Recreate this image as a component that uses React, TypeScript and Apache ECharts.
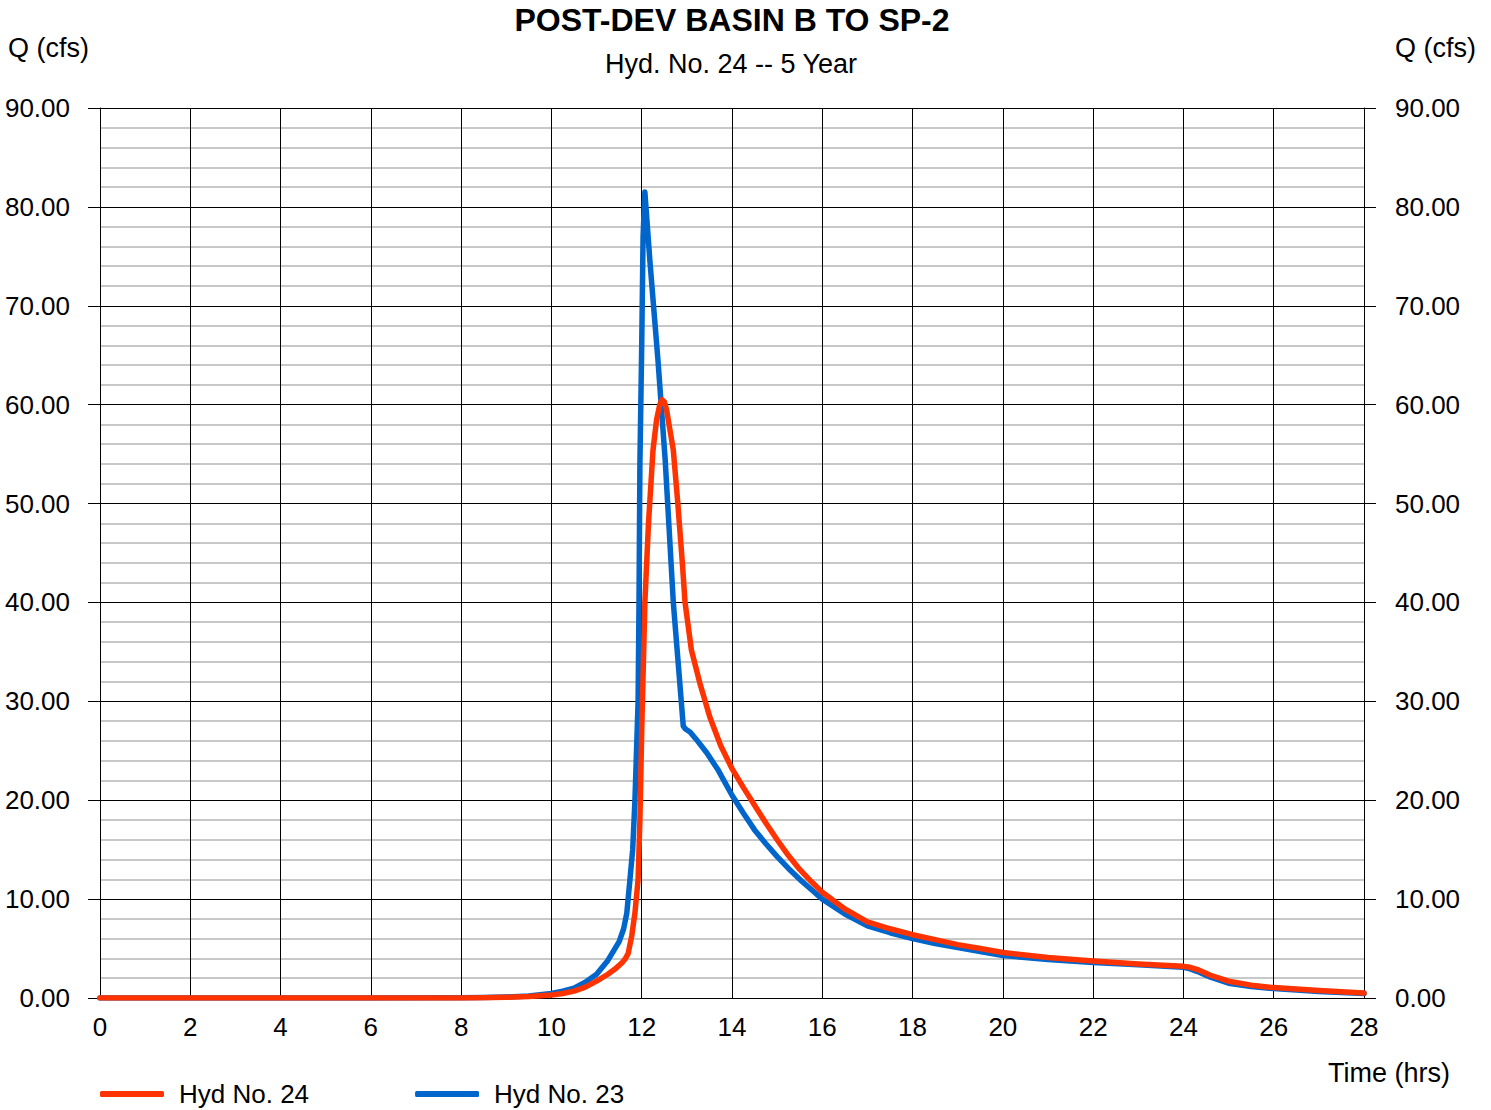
import React, { useEffect, useRef } from "react";
import * as echarts from "echarts";

const xTicks = [0, 2, 4, 6, 8, 10, 12, 14, 16, 18, 20, 22, 24, 26, 28];
const yTicks = [0, 10, 20, 30, 40, 50, 60, 70, 80, 90];

const hyd23Time = [0, 6, 8, 8.5, 9, 9.5, 10, 10.25, 10.5, 10.75, 11, 11.25, 11.5, 11.6, 11.67, 11.74, 11.8, 11.85, 11.92, 11.94, 11.96, 12.0, 12.03, 12.07, 12.18, 12.36, 12.52, 12.7, 12.85, 12.92, 12.97, 13.07, 13.2, 13.44, 13.7, 14.0, 14.25, 14.5, 14.75, 15, 15.25, 15.5, 15.75, 16, 16.5, 17, 17.5, 18, 18.5, 19, 19.5, 20, 21, 22, 23, 24, 24.15, 24.3, 24.6, 25, 25.5, 26, 26.5, 27, 28];
const hyd23Flow = [0, 0, 0.02, 0.05, 0.1, 0.2, 0.45, 0.7, 1.0, 1.6, 2.4, 3.8, 5.7, 7.0, 8.6, 12, 15, 20, 30, 40, 54, 66, 77, 81.5, 74.6, 64.5, 54.4, 40, 31.5, 27.5, 27.2, 26.9, 26.2, 24.8, 23.0, 20.5, 18.7, 17.0, 15.6, 14.3, 13.1, 12.0, 11.0, 10.0, 8.5, 7.3, 6.6, 6.0, 5.5, 5.1, 4.7, 4.3, 3.9, 3.6, 3.35, 3.1, 2.95, 2.7, 2.1, 1.5, 1.15, 0.95, 0.8, 0.65, 0.45];

const hyd24Time = [0, 6, 8, 8.5, 9, 9.5, 10, 10.25, 10.5, 10.75, 11, 11.25, 11.4, 11.5, 11.58, 11.64, 11.7, 11.78, 11.85, 11.92, 11.96, 12.0, 12.07, 12.15, 12.25, 12.33, 12.4, 12.45, 12.5, 12.55, 12.7, 12.8, 12.9, 12.96, 13.1, 13.29, 13.51, 13.75, 14.0, 14.25, 14.5, 14.75, 15, 15.25, 15.5, 15.75, 16, 16.5, 17, 17.5, 18, 18.5, 19, 19.5, 20, 21, 22, 23, 24, 24.15, 24.3, 24.6, 25, 25.5, 26, 26.5, 27, 28];
const hyd24Flow = [0, 0, 0.01, 0.03, 0.07, 0.15, 0.3, 0.45, 0.7, 1.1, 1.7, 2.4, 2.9, 3.3, 3.65, 4.0, 4.5, 6.3, 8.6, 12, 18, 27, 40, 48, 55.4, 58.5, 60.0, 60.5, 60.3, 59.5, 55.4, 50, 44, 40, 35.2, 31.8, 28.4, 25.5, 23.2, 21.3, 19.5, 17.7, 16.0, 14.4, 13.0, 11.8, 10.7, 9.0, 7.7, 7.0, 6.4, 5.9, 5.4, 5.0, 4.6, 4.1, 3.75, 3.45, 3.2, 3.1, 2.9, 2.3, 1.7, 1.3, 1.05, 0.9, 0.75, 0.5];

const seriesNames = ["Hyd No. 24", "Hyd No. 23"];
const seriesColors = ["#ff3300", "#0066cc"];
const titleText = "POST-DEV BASIN B TO SP-2";
const subtitleText = "Hyd. No. 24 -- 5 Year";

const FONT = "Liberation Sans, Arial, sans-serif";

export default function App() {
  const ref = useRef<HTMLDivElement>(null);
  useEffect(() => {
    if (!ref.current) return;
    const chart = echarts.init(ref.current, null, { renderer: "svg" });
    const pair = (t: number[], q: number[]) => t.map((v, i) => [v, q[i]]);
    const yAxisBase = {
      type: "value",
      min: yTicks[0],
      max: yTicks[yTicks.length - 1],
      interval: 10,
      axisLine: { show: true, lineStyle: { color: "#000", width: 1 } },
      axisTick: { show: true, inside: false, length: 12, lineStyle: { color: "#000", width: 1 } },
      axisLabel: {
        formatter: (v: number) => v.toFixed(2),
        color: "#000",
        fontFamily: FONT,
        fontSize: 26,
        margin: 30,
      },
    };
    chart.setOption({
      animation: false,
      backgroundColor: "#fff",
      textStyle: { fontFamily: FONT },
      grid: { left: 100, right: 127, top: 108, bottom: 112, containLabel: false },
      xAxis: {
        type: "value",
        min: xTicks[0],
        max: xTicks[xTicks.length - 1],
        interval: 2,
        axisLine: { show: true, onZero: false, lineStyle: { color: "#000", width: 1 } },
        axisTick: { show: false },
        axisLabel: { color: "#000", fontFamily: FONT, fontSize: 26, margin: 16 },
        splitLine: { show: true, lineStyle: { color: "#000", width: 1 } },
      },
      yAxis: [
        {
          ...yAxisBase,
          position: "left",
          splitLine: { show: true, lineStyle: { color: "#000", width: 1 } },
          minorTick: { show: false, splitNumber: 5 },
          minorSplitLine: { show: true, lineStyle: { color: "#c8c8c8", width: 2 } },
        },
        {
          ...yAxisBase,
          position: "right",
          axisLabel: { ...yAxisBase.axisLabel, margin: 31 },
          splitLine: { show: false },
        },
      ],
      legend: {
        data: seriesNames,
        left: 95,
        top: 1076,
        padding: 5,
        icon: "roundRect",
        itemWidth: 64,
        itemHeight: 6,
        itemGap: 106,
        textStyle: { color: "#000", fontFamily: FONT, fontSize: 26, lineHeight: 26, padding: [0, 0, 0, 10] },
      },
      graphic: [
        {
          type: "text",
          x: 732,
          y: 20,
          style: { text: titleText, fill: "#000", font: `bold 32px ${FONT}`, textAlign: "center", textVerticalAlign: "middle" },
        },
        {
          type: "text",
          x: 731,
          y: 64,
          style: { text: subtitleText, fill: "#000", font: `27px ${FONT}`, textAlign: "center", textVerticalAlign: "middle" },
        },
        {
          type: "text",
          x: 8,
          y: 48,
          style: { text: "Q (cfs)", fill: "#000", font: `27px ${FONT}`, textAlign: "left", textVerticalAlign: "middle" },
        },
        {
          type: "text",
          x: 1395,
          y: 48,
          style: { text: "Q (cfs)", fill: "#000", font: `27px ${FONT}`, textAlign: "left", textVerticalAlign: "middle" },
        },
        {
          type: "text",
          x: 1328,
          y: 1073,
          style: { text: "Time (hrs)", fill: "#000", font: `27px ${FONT}`, textAlign: "left", textVerticalAlign: "middle" },
        },
      ],
      series: [
        {
          name: seriesNames[1],
          type: "line",
          data: pair(hyd23Time, hyd23Flow),
          showSymbol: false,
          smooth: false,
          color: seriesColors[1],
          lineStyle: { color: seriesColors[1], width: 5.5, cap: "round", join: "round" },
          z: 3,
        },
        {
          name: seriesNames[0],
          type: "line",
          data: pair(hyd24Time, hyd24Flow),
          showSymbol: false,
          smooth: false,
          color: seriesColors[0],
          lineStyle: { color: seriesColors[0], width: 5.5, cap: "round", join: "round" },
          z: 4,
        },
      ],
    });
    return () => chart.dispose();
  }, []);
  return (
    <div
      ref={ref}
      style={{ position: "fixed", left: 0, top: 0, width: "1491px", height: "1110px", background: "#fff" }}
    />
  );
}
